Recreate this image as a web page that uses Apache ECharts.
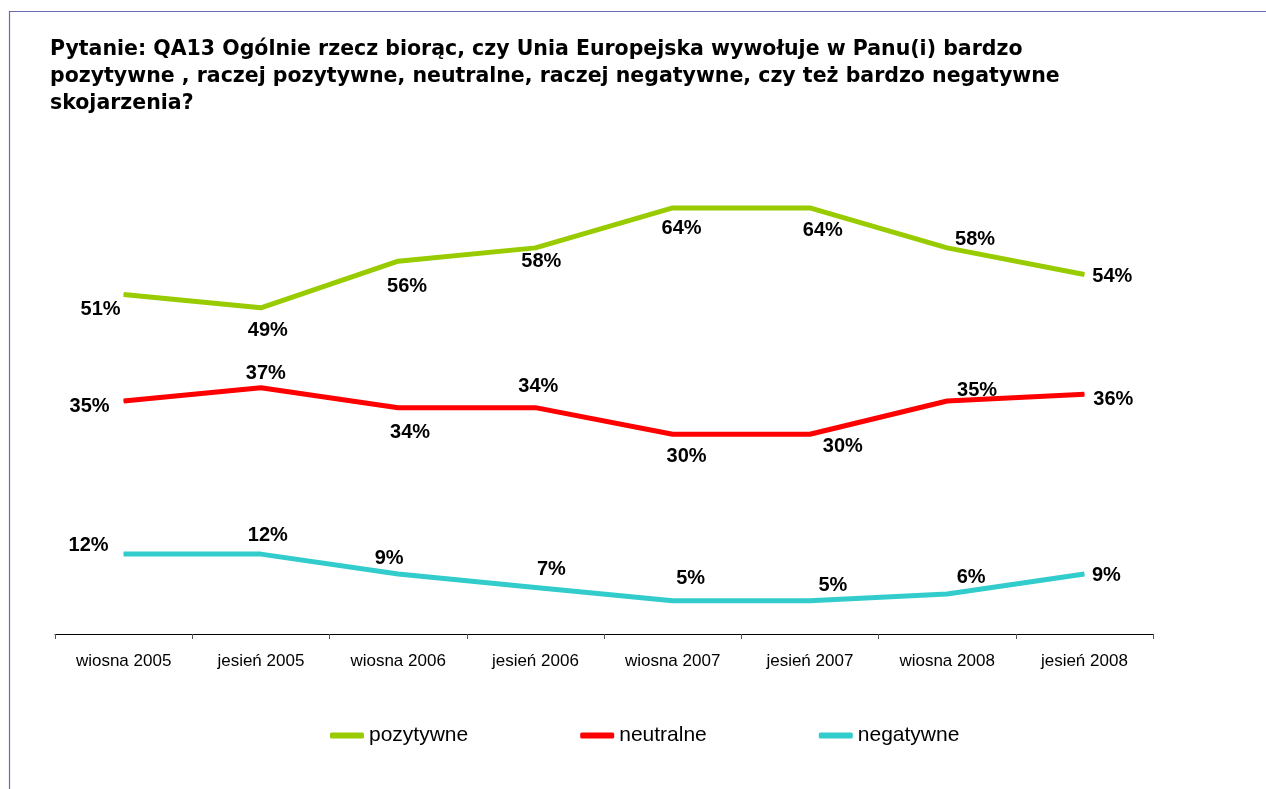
<!DOCTYPE html>
<html>
<head>
<meta charset="utf-8">
<title>QA13</title>
<script src="https://cdn.jsdelivr.net/npm/echarts@6/dist/echarts.min.js"></script>
<style>
  html, body { margin: 0; padding: 0; background: #fff; }
  #chart { width: 1266px; height: 789px; }
</style>
</head>
<body>
<div id="chart"></div>
<script>
  // dane
  var categories = ["wiosna 2005", "jesień 2005", "wiosna 2006", "jesień 2006",
    "wiosna 2007", "jesień 2007", "wiosna 2008", "jesień 2008"];
  var pozytywne = [51, 49, 56, 58, 64, 64, 58, 54];
  var neutralne = [35, 37, 34, 34, 30, 30, 35, 36];
  var negatywne = [12, 12, 9, 7, 5, 5, 6, 9];

  // przesunięcia etykiet względem punktów (px)
  var offPoz = [[-23, 15], [7, 23], [9, 25], [6, 14], [9, 21], [13, 23], [28, -8], [28, 2]];
  var offNeu = [[-34, 5], [5, -14], [12, 25], [3, -21], [14, 22], [33, 12], [30, -11], [29, 5]];
  var offNeg = [[-35, -9], [7, -19], [-9, -16], [16, -18], [18, -22], [23, -15], [24, -17], [22, 1]];

  function withLabels(values, offsets) {
    return values.map(function (v, i) {
      return { value: v, label: { offset: offsets[i] } };
    });
  }

  function lineSeries(name, color, values, offsets) {
    return {
      name: name,
      type: "line",
      data: withLabels(values, offsets),
      symbol: "circle",
      symbolSize: 1,
      lineStyle: { color: color, width: 5 },
      itemStyle: { color: color },
      label: {
        show: true,
        position: "inside",
        formatter: "{c}%",
        color: "#000",
        fontFamily: "Liberation Sans, Arial, sans-serif",
        fontWeight: "bold",
        fontSize: 20
      },
      emphasis: { disabled: true },
      animation: false
    };
  }

  var chart = echarts.init(document.getElementById("chart"));
  chart.setOption({
    backgroundColor: "#fff",
    title: {
      text: "Pytanie: QA13 Ogólnie rzecz biorąc, czy Unia Europejska wywołuje w Panu(i) bardzo\n" +
        "pozytywne , raczej pozytywne, neutralne, raczej negatywne, czy też bardzo negatywne\n" +
        "skojarzenia?",
      left: 45,
      top: 31,
      textStyle: {
        fontFamily: "DejaVu Sans, Verdana, sans-serif",
        fontWeight: "bold",
        fontSize: 20.5,
        lineHeight: 27,
        color: "#000"
      }
    },
    graphic: [{
      type: "rect",
      shape: { x: 9.5, y: 11.5, width: 1400, height: 900 },
      style: { fill: "none", stroke: "#6a6ab8", lineWidth: 1.2 },
      silent: true
    }],
    legend: {
      left: 325,
      top: 720,
      itemGap: 112,
      itemWidth: 34,
      itemHeight: 6,
      icon: "roundRect",
      textStyle: {
        fontFamily: "Liberation Sans, Arial, sans-serif",
        fontSize: 21,
        color: "#000"
      },
      data: ["pozytywne", "neutralne", "negatywne"]
    },
    grid: { left: 55, right: 113, top: 168, bottom: 155 },
    xAxis: {
      type: "category",
      data: categories,
      boundaryGap: true,
      axisLine: { lineStyle: { color: "#000", width: 1 } },
      axisTick: { show: true, length: 5, lineStyle: { color: "#555" } },
      axisLabel: {
        margin: 19,
        color: "#000",
        fontFamily: "Liberation Sans, Arial, sans-serif",
        fontSize: 17
      }
    },
    yAxis: {
      type: "value",
      min: 0,
      max: 70,
      show: false,
      splitLine: { show: false }
    },
    series: [
      lineSeries("pozytywne", "#99cc00", pozytywne, offPoz),
      lineSeries("neutralne", "#ff0000", neutralne, offNeu),
      lineSeries("negatywne", "#33cccc", negatywne, offNeg)
    ]
  });
</script>
</body>
</html>
